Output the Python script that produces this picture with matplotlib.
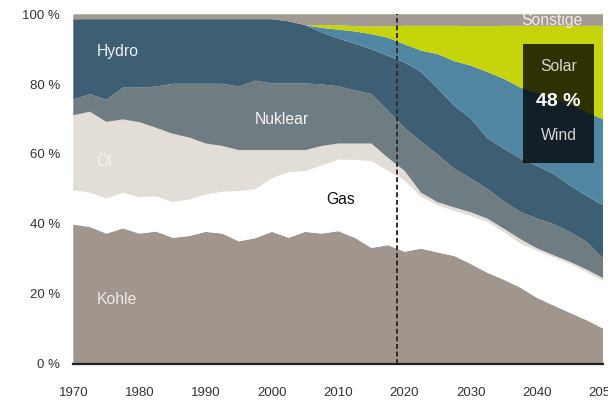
import matplotlib
matplotlib.use("Agg")
import matplotlib.pyplot as plt
from matplotlib.patches import Rectangle
import numpy as np

plt.rcParams['font.family'] = ['Liberation Sans', 'DejaVu Sans']

# ---- data (shares in %, every 2.5 years) ----
years = np.arange(1970, 2050.01, 2.5)
kohle = [39.8, 39.1, 37.2, 38.7, 37.2, 37.8, 36.0, 36.5, 37.7, 37.2, 35.0, 35.9, 37.7,
         36.0, 37.7, 37.2, 37.9, 36.0, 33.1, 33.9, 32.0, 32.9, 31.8, 30.8, 28.5, 26.0,
         24.0, 21.7, 18.8, 16.6, 14.5, 12.4, 10.0]
gas = [9.9, 9.8, 10.1, 10.2, 10.4, 10.1, 10.2, 10.5, 10.7, 12.0, 14.4, 14.0, 15.4,
       18.8, 17.4, 19.5, 20.5, 22.3, 24.9, 21.3, 20.4, 14.9, 13.5, 12.9, 13.8, 14.5,
       13.6, 12.6, 13.5, 13.8, 14.0, 13.7, 13.6]
oel = [21.4, 23.2, 21.9, 21.0, 21.5, 19.6, 19.6, 17.7, 14.6, 13.1, 11.7, 11.2, 8.0,
       6.3, 6.0, 5.6, 4.6, 4.7, 5.0, 3.7, 2.8, 1.1, 0.9, 1.0, 1.0, 1.0,
       1.0, 1.3, 0.7, 0.6, 0.6, 0.8, 0.8]
nuklear = [4.5, 5.0, 6.3, 9.1, 9.9, 11.8, 14.3, 15.4, 17.1, 17.8, 18.2, 19.9, 19.1,
           19.1, 19.1, 17.6, 16.4, 15.2, 14.2, 13.5, 12.3, 14.7, 13.6, 11.1, 9.7, 8.5,
           7.8, 7.8, 8.5, 8.9, 8.5, 7.9, 5.6]
hydro = [23.0, 21.5, 23.1, 19.6, 19.6, 19.3, 18.5, 18.5, 18.5, 18.5, 19.3, 17.6, 18.4,
         17.8, 16.7, 14.9, 13.7, 13.4, 12.8, 15.7, 18.7, 19.9, 19.0, 18.0, 17.2, 14.5,
         15.1, 15.3, 15.1, 14.4, 13.3, 13.2, 15.3]
wind = [0, 0, 0, 0, 0, 0, 0, 0, 0, 0, 0, 0, 0,
        0, 0, 1.3, 2.5, 3.5, 4.3, 5.2, 5.2, 6.1, 9.8, 12.8, 15.1, 19.0,
        20.0, 20.3, 20.9, 21.7, 23.4, 24.0, 24.6]
solar = [0, 0, 0, 0, 0, 0, 0, 0, 0, 0, 0, 0, 0,
         0, 0, 0.8, 1.3, 1.5, 2.2, 3.3, 5.3, 7.1, 8.1, 10.1, 11.3, 13.1,
         15.2, 17.7, 19.2, 20.7, 22.4, 24.7, 26.8]
sonstige = [1.4, 1.4, 1.4, 1.4, 1.4, 1.4, 1.4, 1.4, 1.4, 1.4, 1.4, 1.4, 1.4,
            2.0, 3.1, 3.1, 3.1, 3.4, 3.5, 3.4, 3.3, 3.3, 3.3, 3.3, 3.4, 3.4,
            3.3, 3.3, 3.3, 3.3, 3.3, 3.3, 3.3]

series_names = ["Kohle", "Gas", "Öl", "Nuklear", "Hydro", "Wind", "Solar", "Sonstige"]
colors = ["#a0968d", "#ffffff", "#e3ddd8", "#6f7d83", "#3e5f73", "#5186a3", "#c6d40b", "#a39a91"]

today_year = 2018.8
ticks_x = [1970, 1980, 1990, 2000, 2010, 2020, 2030, 2040, 2050]
ticks_y = [0, 20, 40, 60, 80, 100]

W, H = 608, 401
fig = plt.figure(figsize=(W / 100, H / 100), dpi=100)
left, right, top, bottom = 73.3, 603.3, 14.3, 363.5
ax = fig.add_axes([left / W, 1 - bottom / H, (right - left) / W, (bottom - top) / H])

ax.stackplot(years, kohle, gas, oel, nuklear, hydro, wind, solar, sonstige,
             colors=colors, linewidth=0, labels=series_names)

ax.set_xlim(1970, 2050)
ax.set_ylim(0, 100)
for s in ["left", "top", "right"]:
    ax.spines[s].set_visible(False)
ax.spines["bottom"].set_color("#231f20")
ax.spines["bottom"].set_linewidth(1.6)
ax.spines["bottom"].set_zorder(5)

ax.set_xticks(ticks_x)
ax.set_xticklabels([str(t) for t in ticks_x])
ax.set_yticks(ticks_y)
ax.set_yticklabels([f"{t} %" for t in ticks_y])
ax.tick_params(axis="x", length=0, pad=17, labelsize=9.5, labelcolor="#333333")
ax.tick_params(axis="y", length=0, pad=9.5, labelsize=9.5, labelcolor="#333333")

ax.axvline(today_year, color="#2e2e2e", lw=1.4, ls=(0, (2.5, 1.4)), zorder=4)

lab = dict(fontsize=11.3, va="center")
ax.text(1973.5, 89.3, "Hydro", color="#eef2f4", ha="left", **lab)
ax.text(2001.5, 69.9, "Nuklear", color="#f4f5f6", ha="center", **lab)
ax.text(1973.5, 57.8, "Öl", color="#f7f4f1", ha="left", **lab)
ax.text(2010.4, 47.1, "Gas", color="#111111", ha="center", **lab)
ax.text(1973.5, 18.2, "Kohle", color="#eeeae6", ha="left", **lab)
ax.text(2042.3, 98.2, "Sonstige", color="#f1eeea", ha="center", **lab)

box = Rectangle((2037.9, 57.3), 10.7, 34.2, facecolor="black", alpha=0.77,
                edgecolor="none", zorder=6)
ax.add_patch(box)
ax.text(2043.25, 85.0, "Solar", color="#d6d6d6", ha="center", va="center",
        fontsize=11.3, zorder=7)
ax.text(2043.25, 75.0, "48 %", color="white", ha="center", va="center",
        fontsize=14, fontweight="bold", zorder=7)
ax.text(2043.25, 65.4, "Wind", color="#d6d6d6", ha="center", va="center",
        fontsize=11.3, zorder=7)

fig.savefig("out.png", dpi=100)
